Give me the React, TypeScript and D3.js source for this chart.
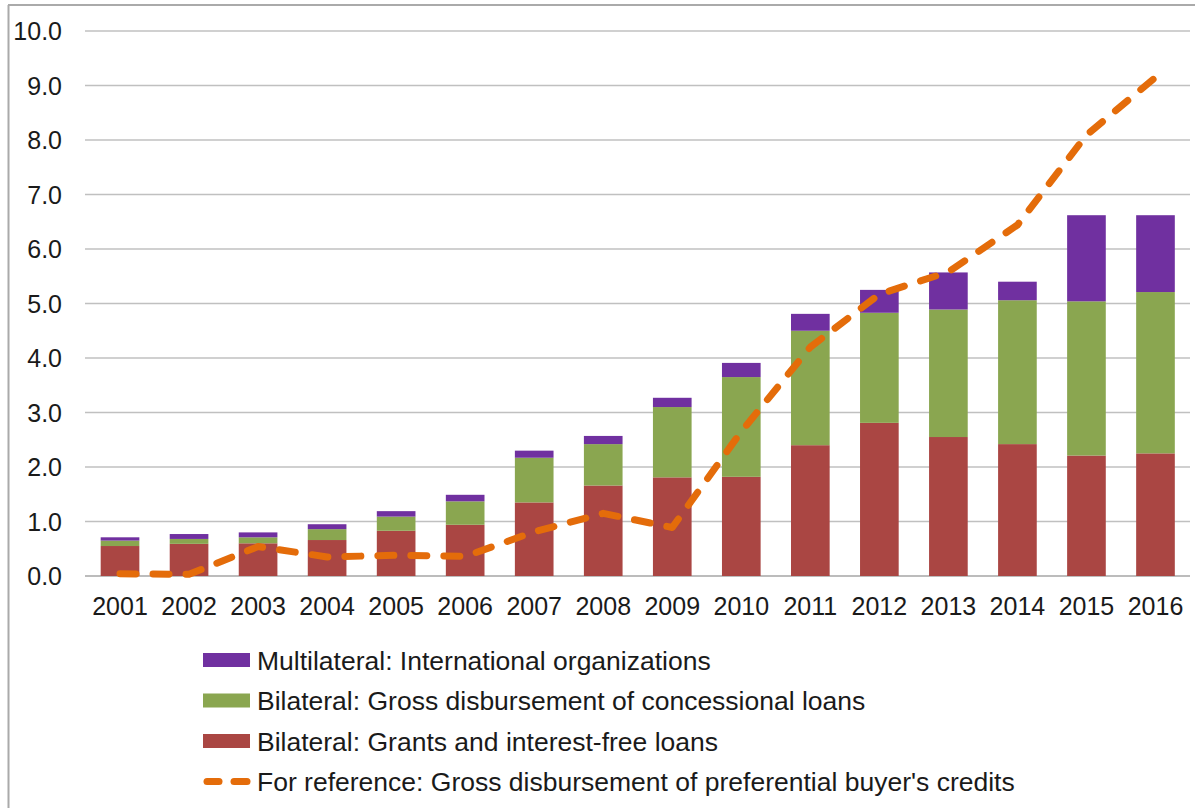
import React from "react";
import * as d3 from "d3";

const years = ["2001","2002","2003","2004","2005","2006","2007","2008","2009","2010","2011","2012","2013","2014","2015","2016"];
const grants = [0.55,0.59,0.60,0.66,0.83,0.94,1.35,1.66,1.81,1.82,2.40,2.81,2.55,2.42,2.21,2.25];
const concessional = [0.10,0.09,0.11,0.20,0.26,0.43,0.82,0.76,1.29,1.83,2.10,2.02,2.34,2.64,2.83,2.96];
const multilateral = [0.06,0.09,0.09,0.09,0.10,0.12,0.13,0.15,0.17,0.26,0.31,0.42,0.68,0.34,1.58,1.41];
const buyersCredits = [0.04,0.03,0.54,0.35,0.38,0.36,0.81,1.15,0.89,2.65,4.2,5.17,5.58,6.44,8.09,9.15];
const yTicks = [0,1,2,3,4,5,6,7,8,9,10];

const seriesNames = [
  "Bilateral: Grants and interest-free loans",
  "Bilateral: Gross disbursement of concessional loans",
  "Multilateral: International organizations",
];
const lineName = "For reference: Gross disbursement of preferential buyer's credits";
const colors = ["#AA4643", "#8AA650", "#7030A0"];
const lineColor = "#E46C0A";

export default function App() {
  const W = 1195, H = 808;
  const x = d3.scaleBand<string>().domain(years).range([85.5, 1190]).paddingInner(0.44).paddingOuter(0.22);
  const y = d3.scaleLinear().domain([0, 10]).range([576, 31]);
  const table = years.map((yr, i) => ({ year: yr, a: grants[i], b: concessional[i], c: multilateral[i] }));
  const stacked = d3.stack<any>().keys(["a", "b", "c"])(table);
  const line = d3.line<number>().x((_, i) => (x(years[i]) as number) + x.bandwidth() / 2).y(d => y(d));
  const font = "'Liberation Sans', Arial, sans-serif";

  const legendRows = [
    { label: seriesNames[2], color: colors[2], type: "rect" },
    { label: seriesNames[1], color: colors[1], type: "rect" },
    { label: seriesNames[0], color: colors[0], type: "rect" },
    { label: lineName, color: lineColor, type: "line" },
  ];

  return (
    <svg width={W} height={H} style={{ position: "absolute", left: 0, top: 0, background: "#fff" }}>
      <rect x={0} y={0} width={W} height={H} fill="#fff" />
      <line x1={8} x2={W} y1={5} y2={5} stroke="#aaa" strokeWidth={2} />
      <line x1={8.5} x2={8.5} y1={5} y2={H} stroke="#aaa" strokeWidth={2} />
      {yTicks.map(t => (
        <g key={t}>
          <line x1={85} x2={1190} y1={y(t)} y2={y(t)} stroke={t === 0 ? "#a6a6a6" : "#c0c0c0"} strokeWidth={1.5} />
          <text x={62} y={y(t)} dy="0.36em" textAnchor="end" fontFamily={font} fontSize={25} fill="#1a1a1a">{t.toFixed(1)}</text>
        </g>
      ))}
      {stacked.map((s, si) => (
        <g key={si} fill={colors[si]}>
          {s.map((d, i) => (
            <rect key={i} x={x(years[i])} width={x.bandwidth()} y={y(d[1])} height={y(d[0]) - y(d[1])} />
          ))}
        </g>
      ))}
      <path d={line(buyersCredits) || ""} fill="none" stroke={lineColor} strokeWidth={7} strokeDasharray="16 17" strokeLinecap="round" strokeLinejoin="round" />
      {years.map(yr => (
        <text key={yr} x={(x(yr) as number) + x.bandwidth() / 2} y={615} textAnchor="middle" fontFamily={font} fontSize={25} fill="#1a1a1a">{yr}</text>
      ))}
      {legendRows.map((r, i) => {
        const cy = 660 + i * 40.5;
        return (
          <g key={i}>
            {r.type === "rect" ? (
              <rect x={203} y={cy - 7} width={47} height={14} fill={r.color} />
            ) : (
              <g stroke={r.color} strokeWidth={7} strokeLinecap="round">
                <line x1={207} x2={219} y1={cy} y2={cy} />
                <line x1={234} x2={247} y1={cy} y2={cy} />
              </g>
            )}
            <text x={257} y={cy} dy="0.36em" fontFamily={font} fontSize={26.5} fill="#1a1a1a">{r.label}</text>
          </g>
        );
      })}
    </svg>
  );
}
